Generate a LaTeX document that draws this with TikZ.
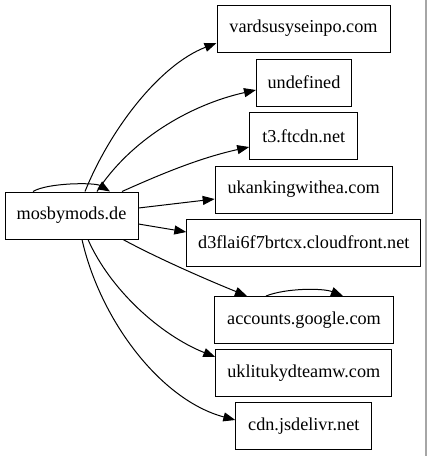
\documentclass[tikz,border=0pt]{standalone}
\usepackage{fontspec}
\setmainfont{Liberation Serif}
\usetikzlibrary{arrows.meta}
\begin{document}
\begin{tikzpicture}[x=1pt,y=-1pt,
  box/.style={draw=black,line width=1pt,minimum height=47pt,inner sep=0pt,font=\fontsize{18.2}{22}\selectfont},
  edge/.style={line width=1pt,-{Triangle[length=12pt,width=9pt]}}]
\useasboundingbox (0,0) rectangle (427,456);
\draw[gray!70,line width=1.5pt] (426,0) -- (426,456);
\node[box,minimum width=133pt] (m) at (71.5,215.5) {mosbymods.de};
\node[box,minimum width=173pt] (v) at (303.5,28.5) {vardsusyseinpo.com};
\node[box,minimum width=95pt] (u) at (304,82.5) {undefined};
\node[box,minimum width=108pt] (t) at (303.7,136) {t3.ftcdn.net};
\node[box,minimum width=177pt] (k) at (303.7,189.5) {ukankingwithea.com};
\node[box,minimum width=234pt] (d) at (303.8,242.7) {d3flai6f7brtcx.cloudfront.net};
\node[box,minimum width=178.6pt] (a) at (304,320) {accounts.google.com};
\node[box,minimum width=176pt] (l) at (303.8,373) {uklitukydteamw.com};
\node[box,minimum width=136pt] (c) at (303.8,426) {cdn.jsdelivr.net};
% self loops
\draw[edge] ([xshift=-38.5pt]m.north) .. controls +(15,-9) and +(-15,-9) .. ([xshift=38.5pt]m.north);
\draw[edge] ([xshift=-38pt]a.north) .. controls +(20,-8) and +(-20,-8) .. ([xshift=39pt]a.north);
% edges
\draw[edge] ([xshift=13.5pt]m.north) .. controls +(25,-62) and +(-57,22) .. ([yshift=-14.5pt]v.west);
\draw[edge] ([xshift=25.5pt]m.north) .. controls +(33,-51) and +(-67,15) .. ([yshift=-7.5pt]u.west);
\draw[edge] ([xshift=50.5pt]m.north) .. controls +(38,-17) and +(-50,11) .. ([yshift=-11pt]t.west);
\draw[edge] ([yshift=7.5pt]m.east) -- ([yshift=-9.5pt]k.west);
\draw[edge] ([yshift=-8.5pt]m.east) -- ([yshift=10.7pt]d.west);
\draw[edge] ([xshift=51.5pt]m.south) .. controls +(37,20) and +(-37,-15) .. ([xshift=-57pt]a.north);
\draw[edge] ([xshift=16.5pt]m.south) .. controls +(22,50) and +(-55,-22) .. ([yshift=16pt]l.west);
\draw[edge] ([xshift=10.5pt]m.south) .. controls +(18,80) and +(-75,-20) .. ([yshift=6pt]c.west);
\end{tikzpicture}
\end{document}
